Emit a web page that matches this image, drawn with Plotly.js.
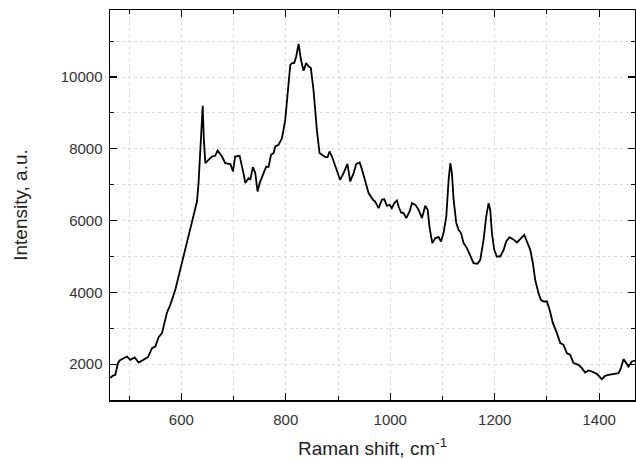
<!DOCTYPE html>
<html>
<head>
<meta charset="utf-8">
<script src="https://cdn.plot.ly/plotly-3.0.1.min.js"></script>
<style>html,body{margin:0;padding:0;background:#fff;}#chart{width:636px;height:459px;}</style>
</head>
<body>
<div id="chart"></div>
<script>
// Raman shift (cm^-1)
var ramanShift = [464,468.5,473.7,478.8,482,486.5,496,502.5,510.7,518.3,527.8,536.3,543.9,550.2,556.6,563,572.6,578.9,588.5,594.8,604.4,613.9,621.6,630,633,635,637.7,639.5,641,643,646,652,658.8,665,669.5,678,684,694,699,703,711.6,719,722.5,728.8,732,737,741.6,746,750,757.5,762.7,767,771.7,776.7,780,786,792.7,799,803.4,808.6,811.9,816,820,824.5,829,834,839,843.6,848,853,859.5,864.6,869,875.6,880,883.8,888.4,895,904,910.6,918,923.4,929.8,935,941.5,946,952,958.5,967,971,977.7,984,988.5,993.6,998.6,1003,1007.7,1012.8,1016,1020.6,1025.5,1030.7,1037,1041.6,1048,1054.3,1060.7,1067,1071.6,1075.4,1080.5,1086.3,1092.6,1097,1102,1107.3,1111.7,1115,1118,1121.3,1126.4,1130.8,1135.4,1140.4,1146.8,1153,1159.4,1167,1172.3,1178.6,1183.7,1188.2,1191.4,1194.6,1199,1204,1210.5,1217,1222,1228.3,1234.8,1242.5,1248.8,1256.5,1261.6,1268,1273,1277.5,1283.8,1288.4,1293.4,1300,1305,1311.4,1319,1325.4,1331.7,1338,1344.4,1350.8,1360.4,1366.8,1373,1379.5,1386,1395.5,1405,1411.5,1417.8,1427.4,1437,1441.5,1446.5,1451.7,1456,1462.6,1469];
// Intensity (a.u.)
var intensity = [1610,1674,1702,2028,2100,2139,2212,2120,2184,2045,2120,2195,2446,2491,2753,2864,3438,3653,4071,4442,4999,5557,6022,6532,7045,7603,8500,9000,9200,8300,7603,7695,7787,7806,7954,7787,7603,7575,7370,7787,7806,7324,7045,7185,7137,7491,7324,6811,7045,7324,7508,7491,7834,7882,8066,8113,8300,8810,9459,10343,10390,10390,10575,10928,10482,10176,10390,10296,10250,9646,8531,7882,7834,7770,7770,7926,7787,7508,7137,7324,7583,7090,7324,7583,7620,7416,7090,6767,6580,6532,6348,6580,6600,6413,6440,6348,6488,6561,6393,6226,6209,6070,6254,6488,6440,6301,6070,6413,6301,5791,5373,5512,5540,5418,5652,6114,7137,7603,7324,6580,5930,5744,5652,5373,5234,5000,4815,4796,4907,5465,6114,6488,6301,5652,5186,5000,5000,5186,5418,5540,5484,5390,5484,5604,5418,5186,4815,4350,3979,3792,3745,3745,3514,3143,2864,2585,2538,2307,2259,2028,1980,1889,1766,1822,1794,1730,1582,1674,1702,1730,1749,1889,2139,2028,1933,2072,2100];
var xTickVals = [600,800,1000,1200,1400];
var xTickText = ['600','800','1000','1200','1400'];
var yTickVals = [2000,4000,6000,8000,10000];
var yTickText = ['2000','4000','6000','8000','10000'];

var fontFam = 'Liberation Sans, Arial, sans-serif';
var trace = {
  x: ramanShift, y: intensity, type: 'scatter', mode: 'lines',
  line: {color: '#000', width: 1.8}, hoverinfo: 'skip'
};
var axisCommon = {
  showline: true, linecolor: '#000', linewidth: 1.5, mirror: 'allticks',
  ticks: 'inside', ticklen: 7, tickwidth: 1.2, tickcolor: '#000',
  showgrid: true, gridcolor: '#dcdcdc', griddash: 'dot', gridwidth: 1,
  zeroline: false, tickmode: 'array',
  tickfont: {family: fontFam, size: 15, color: '#333'}
};
var minorCommon = {ticks: 'inside', ticklen: 4, tickwidth: 1, tickcolor: '#000', showgrid: true, gridcolor: '#dcdcdc', griddash: 'dot', gridwidth: 1};
var layout = {
  width: 636, height: 459,
  margin: {l: 110, r: 1, t: 10, b: 59},
  paper_bgcolor: '#fff', plot_bgcolor: '#fff',
  showlegend: false,
  xaxis: Object.assign({}, axisCommon, {
    range: [463.5, 1468.5], tickvals: xTickVals, ticktext: xTickText,
    ticklabelstandoff: 5,
    minor: Object.assign({dtick: 100, tick0: 500}, minorCommon),
    title: {text: 'Raman shift, cm<sup>-1</sup>', font: {family: fontFam, size: 19, color: '#222'}, standoff: 17}
  }),
  yaxis: Object.assign({}, axisCommon, {
    range: [1000, 11870], tickvals: yTickVals, ticktext: yTickText,
    ticklabelstandoff: 3,
    minor: Object.assign({dtick: 1000, tick0: 1000}, minorCommon),
    title: {text: 'Intensity, a.u.', font: {family: fontFam, size: 19, color: '#222'}, standoff: 28}
  })
};
Plotly.newPlot('chart', [trace], layout, {staticPlot: true, displayModeBar: false});
</script>
</body>
</html>
